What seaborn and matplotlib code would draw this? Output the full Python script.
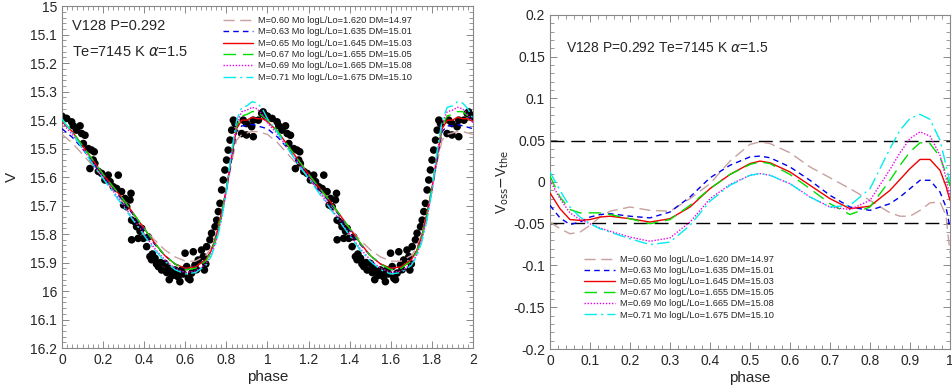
import numpy as np
import pandas as pd
import matplotlib
matplotlib.use("Agg")
import matplotlib.pyplot as plt
import seaborn as sns
from matplotlib.ticker import MultipleLocator, FormatStrFormatter

# --- Data: observed V light curve (one cycle, shown twice) ---
obs_phase = [0.000, 0.023, 0.047, 0.055, 0.071, 0.088, 0.096, 0.112, 0.104, 0.128,
             0.144, 0.157, 0.136, 0.152, 0.160, 0.177, 0.193, 0.209, 0.225, 0.234,
             0.250, 0.274, 0.266, 0.290, 0.307, 0.300, 0.315, 0.331, 0.336, 0.339,
             0.355, 0.363, 0.388, 0.339, 0.371, 0.396, 0.420, 0.412, 0.428, 0.436,
             0.453, 0.469, 0.485, 0.501, 0.517, 0.522, 0.534, 0.550, 0.558, 0.574,
             0.582, 0.599, 0.607, 0.623, 0.631, 0.639, 0.647, 0.663, 0.679, 0.693,
             0.688, 0.704, 0.720, 0.728, 0.745, 0.753, 0.761, 0.769, 0.777, 0.785,
             0.793, 0.801, 0.809, 0.818, 0.826, 0.834, 0.842, 0.874, 0.882, 0.898,
             0.898, 0.923, 0.931, 0.931, 0.956, 0.972, 0.979, 0.987, 0.996, 0.480,
             0.510, 0.540, 0.565, 0.590, 0.615, 0.655, 0.700, 0.440, 0.460, 0.380]
obs_v = [15.386, 15.394, 15.406, 15.420, 15.435, 15.420, 15.447, 15.453, 15.482, 15.500,
         15.505, 15.511, 15.570, 15.540, 15.552, 15.580, 15.587, 15.610, 15.593, 15.616,
         15.634, 15.593, 15.640, 15.651, 15.675, 15.698, 15.704, 15.680, 15.657, 15.751,
         15.757, 15.774, 15.780, 15.820, 15.815, 15.815, 15.810, 15.844, 15.879, 15.890,
         15.885, 15.914, 15.926, 15.903, 15.920, 15.960, 15.937, 15.926, 15.932, 15.967,
         15.926, 15.867, 15.914, 15.960, 15.937, 15.862, 15.909, 15.891, 15.856, 15.926,
         15.879, 15.844, 15.820, 15.797, 15.774, 15.751, 15.721, 15.692, 15.645, 15.610,
         15.575, 15.540, 15.505, 15.470, 15.435, 15.400, 15.412, 15.447, 15.400, 15.412,
         15.452, 15.423, 15.400, 15.458, 15.400, 15.376, 15.371, 15.382, 15.388, 15.900,
         15.935, 15.945, 15.950, 15.940, 15.955, 15.925, 15.905, 15.870, 15.905, 15.790]

# --- Data: model light curves ---
model_phase = [0.0, 0.05, 0.1, 0.15, 0.2, 0.25, 0.3, 0.35, 0.4, 0.45, 0.5, 0.55, 0.6, 0.65,
               0.7, 0.725, 0.75, 0.775, 0.8, 0.825, 0.85, 0.875, 0.9, 0.925, 0.95, 0.975]
v_060 = [15.45, 15.48, 15.52, 15.56, 15.60, 15.645, 15.69, 15.735, 15.78, 15.82, 15.855, 15.88, 15.895,
         15.895, 15.875, 15.85, 15.80, 15.73, 15.65, 15.55, 15.47, 15.45, 15.445, 15.44, 15.44, 15.445]
v_063 = [15.43, 15.46, 15.50, 15.55, 15.595, 15.64, 15.685, 15.735, 15.785, 15.835, 15.875, 15.905, 15.92,
         15.915, 15.89, 15.86, 15.81, 15.735, 15.645, 15.54, 15.44, 15.42, 15.42, 15.415, 15.42, 15.425]
v_065 = [15.405, 15.44, 15.49, 15.54, 15.59, 15.635, 15.68, 15.73, 15.78, 15.83, 15.875, 15.905, 15.92,
         15.915, 15.89, 15.86, 15.81, 15.73, 15.64, 15.53, 15.43, 15.40, 15.40, 15.39, 15.395, 15.395]
v_067 = [15.40, 15.44, 15.49, 15.54, 15.59, 15.635, 15.68, 15.73, 15.78, 15.83, 15.875, 15.905, 15.925,
         15.92, 15.895, 15.865, 15.815, 15.74, 15.64, 15.52, 15.42, 15.385, 15.38, 15.37, 15.37, 15.385]
v_069 = [15.41, 15.45, 15.50, 15.55, 15.60, 15.65, 15.70, 15.75, 15.80, 15.85, 15.89, 15.92, 15.935,
         15.93, 15.905, 15.875, 15.825, 15.75, 15.65, 15.52, 15.41, 15.37, 15.365, 15.355, 15.36, 15.38]
v_071 = [15.395, 15.445, 15.50, 15.555, 15.605, 15.655, 15.705, 15.755, 15.805, 15.855, 15.895, 15.925, 15.94,
         15.935, 15.91, 15.88, 15.83, 15.755, 15.65, 15.51, 15.40, 15.355, 15.35, 15.335, 15.34, 15.36]

# --- Data: residuals V_obs - V_the ---
res_phase = [0, 0.025, 0.05, 0.075, 0.1, 0.125, 0.15, 0.2, 0.25, 0.3, 0.35, 0.4, 0.45, 0.5, 0.525,
             0.55, 0.6, 0.65, 0.7, 0.75, 0.8, 0.85, 0.875, 0.9, 0.925, 0.95, 0.975, 0.99, 1.0]
r_060 = [-0.048, -0.056, -0.062, -0.060, -0.052, -0.042, -0.035, -0.030, -0.034, -0.035, -0.020, -0.002, 0.025,
         0.045, 0.048, 0.046, 0.035, 0.018, 0.005, -0.008, -0.022, -0.037, -0.041, -0.041, -0.034, -0.025,
         -0.024, -0.040, -0.085]
r_063 = [-0.028, -0.043, -0.051, -0.048, -0.042, -0.039, -0.038, -0.041, -0.043, -0.036, -0.018, 0.005, 0.020,
         0.030, 0.031, 0.029, 0.018, 0.002, -0.016, -0.030, -0.034, -0.026, -0.018, -0.008, 0.002, 0.002,
         -0.012, -0.030, -0.055]
r_065 = [-0.013, -0.032, -0.045, -0.046, -0.045, -0.042, -0.041, -0.044, -0.048, -0.044, -0.030, -0.008, 0.009,
         0.022, 0.025, 0.023, 0.012, -0.004, -0.020, -0.032, -0.029, -0.010, 0.003, 0.016, 0.027, 0.027,
         0.014, -0.005, -0.022]
r_067 = [0.007, -0.018, -0.033, -0.037, -0.037, -0.037, -0.039, -0.044, -0.050, -0.045, -0.028, -0.008, 0.009,
         0.021, 0.024, 0.022, 0.009, -0.008, -0.026, -0.039, -0.030, 0.002, 0.020, 0.036, 0.047, 0.046,
         0.030, 0.010, -0.005]
r_069 = [0.002, -0.020, -0.037, -0.045, -0.050, -0.055, -0.059, -0.066, -0.071, -0.067, -0.048, -0.020, -0.003,
         0.008, 0.010, 0.008, -0.002, -0.018, -0.030, -0.033, -0.022, 0.015, 0.035, 0.052, 0.060, 0.055,
         0.032, 0.005, -0.018]
r_071 = [0.012, -0.010, -0.030, -0.042, -0.050, -0.056, -0.060, -0.068, -0.075, -0.072, -0.052, -0.023, -0.004,
         0.008, 0.010, 0.008, -0.002, -0.018, -0.030, -0.028, -0.008, 0.040, 0.062, 0.076, 0.081, 0.075,
         0.050, 0.020, 0.000]
limits = [0.049, -0.049]

labels = ["M=0.60 Mo logL/Lo=1.620 DM=14.97",
          "M=0.63 Mo logL/Lo=1.635 DM=15.01",
          "M=0.65 Mo logL/Lo=1.645 DM=15.03",
          "M=0.67 Mo logL/Lo=1.655 DM=15.05",
          "M=0.69 Mo logL/Lo=1.665 DM=15.08",
          "M=0.71 Mo logL/Lo=1.675 DM=15.10"]
colors = ["#c8a0a0", "#0000ee", "#ee0000", "#00dd00", "#ee00ee", "#00eeee"]
dashes = [(8, 4), (4, 3), (), (9, 5), (1, 1.2), (9, 3, 1.5, 3)]
models = [v_060, v_063, v_065, v_067, v_069, v_071]
resids = [r_060, r_063, r_065, r_067, r_069, r_071]

sns.set_theme(style="ticks")
plt.rcParams['font.family'] = ['Liberation Sans', 'DejaVu Sans']
plt.rcParams['mathtext.fontset'] = 'dejavusans'

fig = plt.figure(figsize=(9.52, 3.88), dpi=100)
ax1 = fig.add_axes([0.0651, 0.103, 0.4317, 0.881])
ax2 = fig.add_axes([0.5777, 0.1005, 0.4202, 0.861])

# --- left panel: light curves over two cycles ---
obs = pd.DataFrame({"phase": np.concatenate([obs_phase, np.array(obs_phase) + 1]),
                    "V": np.concatenate([obs_v, obs_v])})
sns.scatterplot(data=obs, x="phase", y="V", ax=ax1, color="black", s=30,
                edgecolor="none", zorder=2, legend=False)

mp = np.array(model_phase)
phase2 = np.concatenate([mp, mp + 1, [2.0]])
for lab, col, d, vals in zip(labels, colors, dashes, models):
    vv = np.concatenate([vals, vals, [vals[0]]])
    sns.lineplot(x=phase2, y=vv, ax=ax1, color=col, lw=1.0, sort=False,
                 estimator=None, label=lab, zorder=3)
    if d:
        ax1.lines[-1].set_dashes(d)

ax1.set_xlim(0, 2)
ax1.set_ylim(16.2, 15.0)
ax1.xaxis.set_major_locator(MultipleLocator(0.2))
ax1.xaxis.set_minor_locator(MultipleLocator(0.025))
ax1.yaxis.set_major_locator(MultipleLocator(0.1))
ax1.yaxis.set_minor_locator(MultipleLocator(0.02))
ax1.xaxis.set_major_formatter(FormatStrFormatter('%g'))
ax1.yaxis.set_major_formatter(FormatStrFormatter('%g'))
ax1.set_xlabel("phase", fontsize=11, labelpad=2)
ax1.set_ylabel("V", fontsize=11, labelpad=8)
ax1.text(0.05, 15.07, "V128 P=0.292", fontsize=10.5, va="center")
ax1.text(0.05, 15.16, r"Te=7145 K $\alpha$=1.5", fontsize=10.5, va="center")
ax1.legend(loc="upper left", bbox_to_anchor=(0.375, 0.99), frameon=False,
           fontsize=6.7, handlelength=3.3, handletextpad=0.5,
           labelspacing=0.25, borderpad=0.2)

# --- right panel: residuals ---
for lab, col, d, vals in zip(labels, colors, dashes, resids):
    sns.lineplot(x=res_phase, y=vals, ax=ax2, color=col, lw=1.0, sort=False,
                 estimator=None, label=lab, zorder=3)
    if d:
        ax2.lines[-1].set_dashes(d)
for lv in limits:
    ax2.axhline(lv, color="black", lw=1.0, dashes=(10, 5), zorder=2)

ax2.set_xlim(0, 1)
ax2.set_ylim(-0.2, 0.2)
ax2.xaxis.set_major_locator(MultipleLocator(0.1))
ax2.xaxis.set_minor_locator(MultipleLocator(0.02))
ax2.yaxis.set_major_locator(MultipleLocator(0.05))
ax2.yaxis.set_minor_locator(MultipleLocator(0.01))
ax2.xaxis.set_major_formatter(FormatStrFormatter('%g'))
ax2.yaxis.set_major_formatter(FormatStrFormatter('%g'))
ax2.set_xlabel("phase", fontsize=11, labelpad=2)
ax2.set_ylabel(r"V$_{\rm oss}$$-$V$_{\rm the}$", fontsize=10, labelpad=2)
ax2.text(0.04, 0.16, r"V128 P=0.292 Te=7145 K $\alpha$=1.5", fontsize=10, va="center")
ax2.legend(loc="upper left", bbox_to_anchor=(0.07, 0.30), frameon=False,
           fontsize=6.7, handlelength=3.3, handletextpad=0.5,
           labelspacing=0.22, borderpad=0.2)

for ax in (ax1, ax2):
    for sp in ax.spines.values():
        sp.set_color("#888888")
        sp.set_linewidth(0.8)
        sp.set_visible(True)
    ax.tick_params(which="both", direction="in", top=True, right=True,
                   color="#888888", labelsize=10)
    ax.tick_params(which="major", length=5, width=0.7)
    ax.tick_params(which="minor", length=3, width=0.6)

fig.savefig("out.png", dpi=100)
